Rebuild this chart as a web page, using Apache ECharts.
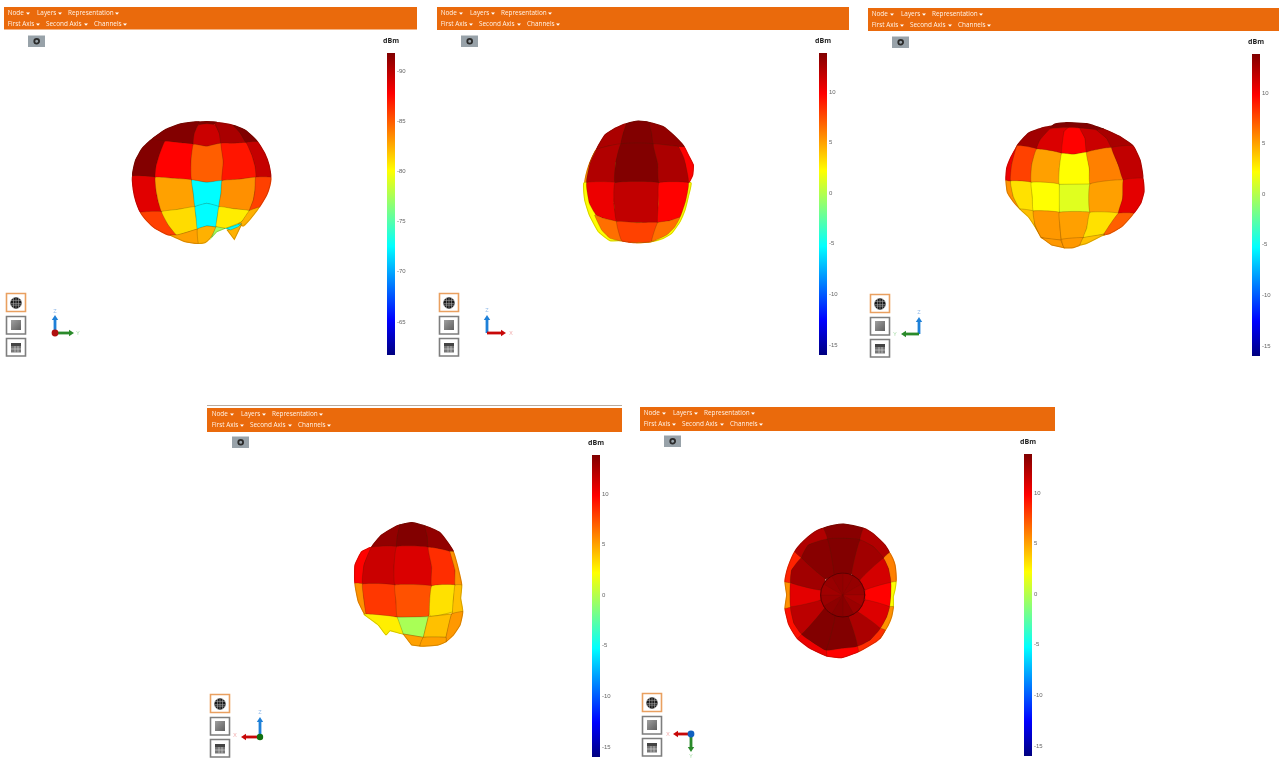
<!DOCTYPE html>
<html><head><meta charset="utf-8">
<style>html,body{margin:0;padding:0;background:#fff}#c{width:1279px;height:758px;filter:blur(0.4px)}</style>
<script src="https://cdn.jsdelivr.net/npm/echarts@6/dist/echarts.min.js"></script>
</head><body><div id="c"></div>
<script>
// Colour-bar ranges: [value at the bottom of the bar, value at the top]
const range1 = [-61.7, -91.8];
const rangeN = [-16, 13.86];
const ticks1 = [-90, -85, -80, -75, -70, -65];
const ticksN = [10, 5, 0, -5, -10, -15];
const unit = 'dBm';
const menuRow1 = ['Node', 'Layers', 'Representation'];
const menuRow2 = ['First Axis', 'Second Axis', 'Channels'];

// Each patch: [level in dBm, outline]
const patches1 = [
[-91.7,[[126,118],[168,88],[210,72],[250,66],[268,66],[258,88],[250,133],[210,128],[165,124]]],
[-91.7,[[68,228],[70,208],[78,178],[96,146],[126,118],[165,124],[148,165],[138,200],[136,232]]],
[-91.7,[[265,67],[290,65],[320,67],[310,73],[290,71],[268,74]]],
[-89.4,[[250,133],[253,100],[265,75],[290,71],[315,75],[328,100],[333,130],[290,139]]],
[-90.5,[[315,68],[345,71],[370,77],[390,98],[408,128],[370,130],[333,132],[328,100]]],
[-91.8,[[370,76],[408,92],[442,125],[408,128],[390,98]]],
[-89.6,[[408,128],[442,125],[464,160],[477,195],[482,232],[437,232],[435,200],[425,165]]],
[-87.7,[[165,124],[210,128],[250,133],[243,180],[245,240],[190,235],[136,232],[138,200],[148,165]]],
[-84.9,[[250,133],[290,139],[333,130],[340,185],[336,242],[290,247],[245,240],[243,185]]],
[-87.1,[[333,130],[370,130],[408,128],[425,165],[435,200],[437,232],[385,238],[336,242],[340,185]]],
[-88.7,[[68,228],[136,232],[138,270],[145,305],[155,335],[92,337],[78,305],[70,270]]],
[-82.9,[[136,232],[190,235],[245,240],[250,280],[255,320],[205,328],[155,335],[145,305],[138,270]]],
[-72.5,[[245,240],[290,247],[336,242],[333,280],[327,320],[290,310],[255,320],[250,280]]],
[-83.4,[[336,242],[385,238],[437,232],[435,270],[430,300],[418,332],[370,326],[327,320],[333,280]]],
[-85.8,[[437,232],[482,232],[480,255],[470,285],[447,322],[418,332],[430,300],[435,270]]],
[-85.8,[[92,337],[155,335],[175,375],[200,405],[175,405],[135,385],[110,362]]],
[-81.1,[[155,335],[205,328],[255,320],[258,350],[265,385],[230,397],[200,405],[175,375]]],
[-72.5,[[255,320],[290,310],[327,320],[322,350],[318,380],[290,378],[262,387],[258,350]]],
[-80.6,[[327,320],[370,326],[418,332],[395,365],[345,385],[318,380],[322,350]]],
[-82.4,[[418,332],[447,322],[420,358],[400,378],[385,372],[395,365]]],
[-82.9,[[180,405],[200,405],[230,397],[262,388],[265,430],[225,425],[195,412]]],
[-82.4,[[262,387],[290,378],[318,382],[310,400],[300,415],[285,428],[265,430]]],
[-77.3,[[318,380],[345,385],[320,395],[305,412]]],
[-82.4,[[352,390],[370,385],[395,372],[373,418]]],
[-72.5,[[350,385],[395,370],[385,380],[362,390]]]
];
const patches2 = [
[5.5,[[110,148],[95,175],[82,210],[75,248],[165,250],[165,150]]],
[2.2,[[72,248],[74,300],[88,345],[115,395],[150,422],[185,422],[230,428],[275,425],[310,415],[335,400],[360,365],[375,330],[385,290],[393,248],[300,248],[160,248]]],
[9.8,[[355,140],[372,140],[385,165],[400,195],[398,225],[385,250],[375,190]]],
[12.5,[[110,148],[135,105],[165,85],[200,71],[190,100],[183,132],[145,138]]],
[13.8,[[200,71],[235,63],[270,68],[275,100],[280,132],[183,132],[190,100]]],
[13.3,[[268,68],[310,80],[340,105],[372,140],[325,136],[280,132],[275,100]]],
[12.3,[[110,148],[145,138],[183,132],[167,190],[165,248],[80,248],[90,190]]],
[13.8,[[183,132],[280,132],[293,190],[297,248],[165,248],[167,190]]],
[12.5,[[280,132],[325,136],[355,140],[372,175],[385,248],[297,248],[293,190]]],
[10.4,[[80,248],[165,248],[162,310],[170,365],[130,355],[108,345],[88,310]]],
[11.8,[[165,248],[297,248],[295,310],[293,368],[230,368],[170,365],[162,310]]],
[9.8,[[297,248],[385,248],[378,300],[360,352],[330,362],[293,368],[295,310]]],
[6.5,[[104,345],[130,355],[170,365],[185,422],[150,415],[125,390]]],
[7.9,[[170,365],[230,368],[293,368],[275,424],[230,428],[185,422]]],
[6.5,[[293,368],[330,362],[360,352],[345,380],[320,405],[275,424]]]
];
const patches3 = [
[5.5,[[48,225],[62,228],[70,275],[90,312],[70,290],[52,262]]],
[10.4,[[48,225],[50,190],[62,158],[82,122],[65,180],[62,228]]],
[12.8,[[82,122],[116,84],[160,68],[195,62],[170,85],[150,105],[140,132]]],
[13.8,[[180,68],[195,57],[230,53],[290,56],[340,72],[320,78],[270,70],[235,68]]],
[11.0,[[140,132],[150,105],[180,72],[235,68],[222,80],[215,145]]],
[9.8,[[215,145],[222,80],[235,68],[270,70],[285,100],[290,142],[250,148]]],
[11.5,[[270,70],[320,75],[350,100],[365,128],[290,142],[285,100]]],
[12.6,[[320,75],[340,72],[392,96],[428,122],[365,128],[350,100]]],
[7.9,[[82,122],[140,132],[125,180],[124,232],[62,228],[65,180]]],
[5.05,[[140,132],[215,145],[208,190],[208,238],[124,232],[125,180]]],
[2.2,[[215,145],[250,148],[290,142],[298,190],[300,237],[208,238],[208,190]]],
[6.0,[[290,142],[365,128],[385,180],[400,225],[300,237],[298,190]]],
[11.8,[[365,128],[428,122],[450,165],[458,220],[400,225],[385,180]]],
[3.1,[[62,228],[124,232],[127,275],[130,318],[90,312],[70,275]]],
[2.2,[[124,232],[208,238],[208,322],[130,318],[127,275]]],
[1.3,[[208,238],[300,237],[300,322],[208,322]]],
[5.05,[[300,237],[400,225],[398,280],[385,325],[300,322]]],
[10.7,[[400,225],[458,220],[462,260],[452,295],[430,325],[385,325],[398,280]]],
[4.1,[[90,312],[130,318],[135,360],[155,398],[135,365],[115,335]]],
[5.3,[[130,318],[208,322],[210,365],[212,405],[155,398],[135,360]]],
[5.05,[[208,322],[300,322],[290,370],[280,398],[215,403],[210,365]]],
[3.1,[[300,322],[385,325],[345,385],[280,398],[290,370]]],
[7.0,[[385,325],[430,325],[395,365],[360,385],[340,390]]],
[5.3,[[155,398],[212,405],[222,428],[185,420]]],
[5.3,[[215,403],[280,398],[270,420],[250,428],[222,428]]],
[4.1,[[280,398],[345,388],[330,395],[290,415],[270,420]]]
];
const patches4 = [
[13.3,[[95,112],[125,75],[170,48],[180,45],[172,80],[170,110]]],
[13.8,[[180,45],[215,38],[255,48],[262,80],[265,112],[170,110],[172,80]]],
[13.3,[[255,48],[300,68],[325,100],[340,125],[265,112],[262,80]]],
[9.8,[[45,165],[65,125],[95,112],[72,165],[68,222],[45,220]]],
[11.5,[[95,112],[170,110],[162,170],[165,225],[68,222],[72,165]]],
[11.0,[[170,110],[265,112],[275,170],[275,228],[165,225],[162,170]]],
[8.5,[[265,112],[330,125],[345,180],[345,225],[275,228],[275,170]]],
[5.5,[[330,125],[340,125],[352,165],[365,225],[345,225],[345,180]]],
[5.5,[[45,220],[68,222],[72,270],[80,315],[75,315],[55,275]]],
[8.2,[[68,222],[165,225],[168,275],[172,320],[80,315],[72,270]]],
[7.4,[[165,225],[275,228],[270,275],[265,318],[172,320],[168,275]]],
[3.1,[[275,228],[345,225],[340,270],[338,305],[270,318]]],
[4.1,[[345,225],[365,225],[362,265],[368,305],[338,310],[340,270]]],
[2.7,[[72,312],[172,322],[190,372],[150,362],[138,375],[115,345]]],
[-0.3,[[172,322],[265,320],[250,382],[190,372]]],
[4.1,[[265,320],[335,312],[318,382],[250,382]]],
[5.3,[[335,312],[368,305],[360,345],[340,375],[318,395],[318,382]]],
[5.05,[[190,372],[250,382],[240,408],[215,405]]],
[5.05,[[250,382],[318,382],[318,395],[295,405],[240,408]]]
];
const patches5 = [
[13.6,[[160,55],[190,46],[220,42],[250,47],[280,55],[270,90],[225,85],[172,88]]],
[12.3,[[280,55],[305,68],[325,85],[345,105],[358,128],[340,145],[310,110],[270,90]]],
[6.0,[[358,128],[368,145],[375,165],[378,190],[378,215],[362,218],[355,175],[340,145]]],
[2.2,[[362,218],[378,215],[375,240],[370,260],[370,290],[358,290],[362,255]]],
[5.5,[[358,290],[370,290],[365,320],[355,345],[330,385],[330,355],[350,320]]],
[8.5,[[330,355],[345,360],[330,385],[310,400],[265,425],[262,408],[300,390]]],
[9.8,[[168,420],[262,408],[265,425],[240,435],[215,443],[170,438]]],
[10.4,[[95,372],[130,398],[168,420],[170,438],[120,415],[82,385]]],
[9.4,[[45,295],[62,290],[72,340],[95,372],[82,385],[65,360],[55,340]]],
[5.5,[[45,215],[62,218],[60,255],[62,290],[45,295],[50,255]]],
[8.8,[[50,185],[60,155],[75,125],[95,143],[65,180],[62,218],[45,215]]],
[12.3,[[75,125],[92,102],[115,80],[135,65],[160,55],[172,88],[115,105],[95,143]]],
[13.8,[[172,88],[225,85],[270,90],[245,190],[218,188],[192,195]]],
[12.8,[[270,90],[310,110],[340,145],[270,210],[245,190]]],
[11.2,[[340,145],[355,175],[362,218],[286,240],[270,210]]],
[9.8,[[362,218],[362,255],[358,290],[286,270],[286,240]]],
[10.9,[[358,290],[350,320],[330,355],[262,305],[286,270]]],
[12.5,[[330,355],[300,390],[262,408],[235,320],[262,305]]],
[13.8,[[262,408],[215,415],[168,420],[195,318],[235,320]]],
[13.8,[[168,420],[130,398],[95,372],[165,292],[195,318]]],
[12.0,[[95,372],[72,340],[62,290],[151,270],[165,292]]],
[10.7,[[62,218],[151,240],[151,270],[62,290],[60,255]]],
[12.8,[[65,180],[95,143],[165,205],[151,240],[62,218]]],
[13.6,[[95,143],[115,105],[172,88],[192,195],[165,205]]]
];
// The round end cap seen in the last view: twelve wedges and their rim
const disc5 = [
[13.2,[[218,255],[218,189],[235,191],[251,198]]],
[13.2,[[218,255],[251,198],[265,208],[275,222]]],
[13.0,[[218,255],[275,222],[282,238],[284,255]]],
[12.7,[[218,255],[284,255],[282,272],[275,288]]],
[13.0,[[218,255],[275,288],[265,302],[251,312]]],
[13.5,[[218,255],[251,312],[235,319],[218,321]]],
[13.6,[[218,255],[218,321],[201,319],[185,312]]],
[13.4,[[218,255],[185,312],[171,302],[161,288]]],
[13.0,[[218,255],[161,288],[154,272],[152,255]]],
[12.8,[[218,255],[152,255],[154,238],[161,222]]],
[13.1,[[218,255],[161,222],[171,208],[185,198]]],
[13.3,[[218,255],[185,198],[201,191],[218,189]]]
];
const rim5 = [[218,189],[235,191],[251,198],[265,208],[275,222],[282,238],[284,255],[282,272],[275,288],[265,302],[251,312],[235,319],[218,321],[201,319],[185,312],[171,302],[161,288],[154,272],[152,255],[154,238],[161,222],[171,208],[185,198],[201,191]];

const stops = [[0,[0,0,128]],[.115,[0,0,255]],[.36,[0,255,255]],[.485,[128,255,128]],[.61,[255,255,0]],[.865,[255,0,0]],[1,[128,0,0]]];
function ramp(f){
  f=Math.max(0,Math.min(1,f));
  for(let i=1;i<stops.length;i++){ if(f<=stops[i][0]){
    const a=stops[i-1],b=stops[i],t=(f-a[0])/(b[0]-a[0]);
    return 'rgb('+a[1].map((c,k)=>Math.round(c+(b[1][k]-c)*t)).join(',')+')';
  }}
  return 'rgb(128,0,0)';
}
const surfaces = [
 {patches:patches1,range:range1,ticks:ticks1,box:[110,100,180,160]},
 {patches:patches2,range:rangeN,ticks:ticksN,box:[560,100,160,160]},
 {patches:patches3,range:rangeN,ticks:ticksN,box:[990,105,170,160]},
 {patches:patches4,range:rangeN,ticks:ticksN,box:[340,510,140,150]},
 {patches:patches5,disc:disc5,rim:rim5,range:rangeN,ticks:ticksN,box:[770,510,140,160]}
];
const bars = [[387,53],[819,53],[1252,54],[592,455],[1024,454]];
const shifts = [[0,0],[433,0],[864,1],[204,401],[636,400]];
const headers = [[4,7,413,22.5],[437,7,412,23],[868,8,413,23],[207,408,415,24],[640,407,415,24]];

const grid=[],xAxis=[],yAxis=[],series=[];
function layer(list,s,g,mode,alpha,smooth){
  series.push({type:'custom',xAxisIndex:g,yAxisIndex:g,clip:false,silent:true,
    data:list.map((p,i)=>[i,p[0]]),
    renderItem:(params,api)=>{
      const p=list[api.value(0)];
      const col=ramp((api.value(1)-s.range[0])/(s.range[1]-s.range[0]));
      return {type:'polygon',shape:{points:p[1].map(q=>api.coord(q)),smooth:p[1].length>4?smooth:0},
        style: mode==='seal' ? {fill:col,stroke:col,lineWidth:1.2}
               : alpha===0 ? {fill:col}
               : {fill:col,stroke:'rgba(60,35,0,'+alpha+')',lineWidth:0.55}};
    }});
}
surfaces.forEach((s,n)=>{
  const g=grid.length;
  grid.push({left:s.box[0],top:s.box[1],width:s.box[2],height:s.box[3]});
  xAxis.push({type:'value',gridIndex:g,min:0,max:s.box[2]*3,show:false});
  yAxis.push({type:'value',gridIndex:g,min:0,max:s.box[3]*3,inverse:true,show:false});
  layer(s.patches,s,g,'seal',0,0.12);
  layer(s.patches,s,g,'draw',0.4,0.12);
  if(s.disc){
    layer(s.disc,s,g,'seal',0,0);
    layer(s.disc,s,g,'draw',0.15,0);
    series.push({type:'custom',xAxisIndex:g,yAxisIndex:g,clip:false,silent:true,data:[[0]],
      renderItem:(params,api)=>({type:'polygon',shape:{points:s.rim.map(q=>api.coord(q))},
        style:{fill:'none',stroke:'rgba(50,0,0,0.7)',lineWidth:0.8}})});
  }
  const b=grid.length, inv=!(s.range[0]<s.range[1]);
  grid.push({left:bars[n][0],top:bars[n][1],width:8,height:302});
  xAxis.push({type:'value',gridIndex:b,min:0,max:1,show:false});
  yAxis.push({type:'value',gridIndex:b,position:'right',inverse:inv,
    min:Math.min(...s.range),max:Math.max(...s.range),
    axisLine:{show:false},splitLine:{show:false},
    axisTick:{show:true,length:2,customValues:s.ticks,lineStyle:{color:'#aaa',width:0.6}},
    axisLabel:{show:true,customValues:s.ticks,fontSize:6,fontFamily:'Liberation Sans',color:'#666',margin:2}});
  series.push({type:'custom',xAxisIndex:b,yAxisIndex:b,silent:true,clip:false,
    data:[[0,s.range[1],1,s.range[0]]],
    renderItem:(params,api)=>{
      const a=api.coord([api.value(0),api.value(1)]),c=api.coord([api.value(2),api.value(3)]);
      return {type:'rect',shape:{x:a[0],y:a[1],width:c[0]-a[0],height:c[1]-a[1]},
        style:{fill:new echarts.graphic.LinearGradient(0,0,0,1,stops.map(t=>({offset:1-t[0],color:ramp(t[0])})).reverse())}};
    }});
});

// Window furniture around each plot
const els=[];
const R=(x,y,w,h,fill,extra)=>els.push({type:'rect',silent:true,shape:{x,y,width:w,height:h},style:Object.assign({fill},extra||{})});
const T=(x,y,text,font,fill,align)=>els.push({type:'text',silent:true,style:{x,y,text,font,fill,align:align||'left',verticalAlign:'middle'}});
const TRI=(pts,fill)=>els.push({type:'polygon',silent:true,shape:{points:pts},style:{fill}});
const L=(a,b,c,d,stroke,w)=>els.push({type:'line',silent:true,shape:{x1:a,y1:b,x2:c,y2:d},style:{stroke,lineWidth:w}});
const C=(x,y,r,fill,stroke,w)=>els.push({type:'circle',silent:true,shape:{cx:x,cy:y,r},style:{fill,stroke,lineWidth:w||0}});
const menuX1=[[7.7,28],[37,60],[68,117]], menuX2=[[7.7,38],[46,86],[94,125]];
shifts.forEach(([dx,dy],n)=>{
  R(...headers[n],'#ea6a0c');
  T(bars[n][0]+4,bars[n][1]-12,unit,'bold 7px "Open Sans"','#222','center');
  const F='6.4px "Open Sans"', tc='#fff2e6';
  menuRow1.forEach((t,i)=>{T(menuX1[i][0]+dx,13.5+dy,t,F,tc);const a=menuX1[i][1]+dx;TRI([[a-2,12.5+dy],[a+2,12.5+dy],[a,14.7+dy]],'#fff');});
  menuRow2.forEach((t,i)=>{T(menuX2[i][0]+dx,24.5+dy,t,F,tc);const a=menuX2[i][1]+dx;TRI([[a-2,23.5+dy],[a+2,23.5+dy],[a,25.7+dy]],'#fff');});
  R(28+dx,35.5+dy,17,11.5,'#98a2a9');
  C(36.7+dx,41.2+dy,2.4,'#98a2a9','#2a2a2a',1.8);
  R(6.5+dx,293.5+dy,19,18,'#fff',{stroke:'#e9a060',lineWidth:1.6});
  C(16+dx,303+dy,5.4,'#1c1c1c','#111',0.5);
  [-2.2,1,2.6].forEach(o=>L(10.6+dx,302.6+o+dy,21.4+dx,302.6+o+dy,'#bbb',0.5));
  [-2.5,0,2.5].forEach(o=>L(16+o+dx,297.6+dy,16+o+dx,308.4+dy,'#bbb',0.5));
  R(6.5+dx,316.5+dy,19,17.5,'#fff',{stroke:'#7e7e7e',lineWidth:1.6});
  R(11+dx,320+dy,10,10,new echarts.graphic.LinearGradient(0,0,1,1,[{offset:0,color:'#a0a0a0'},{offset:1,color:'#606060'}]));
  R(6.5+dx,338.5+dy,19,17.5,'#fff',{stroke:'#7e7e7e',lineWidth:1.6});
  R(11+dx,343+dy,10,3,'#444');R(11+dx,346+dy,10,6.5,'#777');
  L(15+dx,346+dy,15+dx,352.5+dy,'#ddd',0.6);L(18+dx,346+dy,18+dx,352.5+dy,'#ddd',0.6);L(11+dx,349+dy,21+dx,349+dy,'#ddd',0.6);
});
L(207,405.5,622,405.5,'#b9aca0',1);

const BLUE='#1e80d8',RED='#c80808',GREEN='#2a8a2a';
function arrow(ox,oy,tx,ty,color){
  const ux=Math.sign(tx-ox),uy=Math.sign(ty-oy);
  L(ox,oy,tx-ux*4,ty-uy*4,color,2.8);
  TRI([[tx,ty],[tx-ux*5+uy*3.2,ty-uy*5+ux*3.2],[tx-ux*5-uy*3.2,ty-uy*5-ux*3.2]],color);
}
const AF='6px "Open Sans"';
arrow(55,333,55,315,BLUE);arrow(55,333,74,333,GREEN);C(55,333,3.4,'#b01010');
T(55,311,'Z',AF,'#8fb8e8','center');T(78,333,'Y',AF,'#a8dca8','center');
arrow(487,333,487,315,BLUE);arrow(487,333,506,333,RED);
T(487,310,'Z',AF,'#8fb8e8','center');T(511,333,'X',AF,'#f0a8a8','center');
arrow(919,334,919,317,BLUE);arrow(919,334,901,334,GREEN);
T(919,312,'Z',AF,'#8fb8e8','center');T(895,334,'Y',AF,'#a8dca8','center');
arrow(260,737,260,717,BLUE);arrow(260,737,241,737,RED);C(260,737,3.2,'#107010');
T(260,712,'Z',AF,'#8fb8e8','center');T(235,735,'X',AF,'#f0a8a8','center');
arrow(691,734,691,752,GREEN);arrow(691,734,673,734,RED);C(691,734,3.4,'#1060c0');
T(691,756,'Y',AF,'#a8dca8','center');T(668,734,'X',AF,'#f0a8a8','center');

const chart=echarts.init(document.getElementById('c'),null,{renderer:'canvas',width:1279,height:758});
chart.setOption({animation:false,backgroundColor:'#fff',grid,xAxis,yAxis,series,graphic:{elements:els}});
</script></body></html>
